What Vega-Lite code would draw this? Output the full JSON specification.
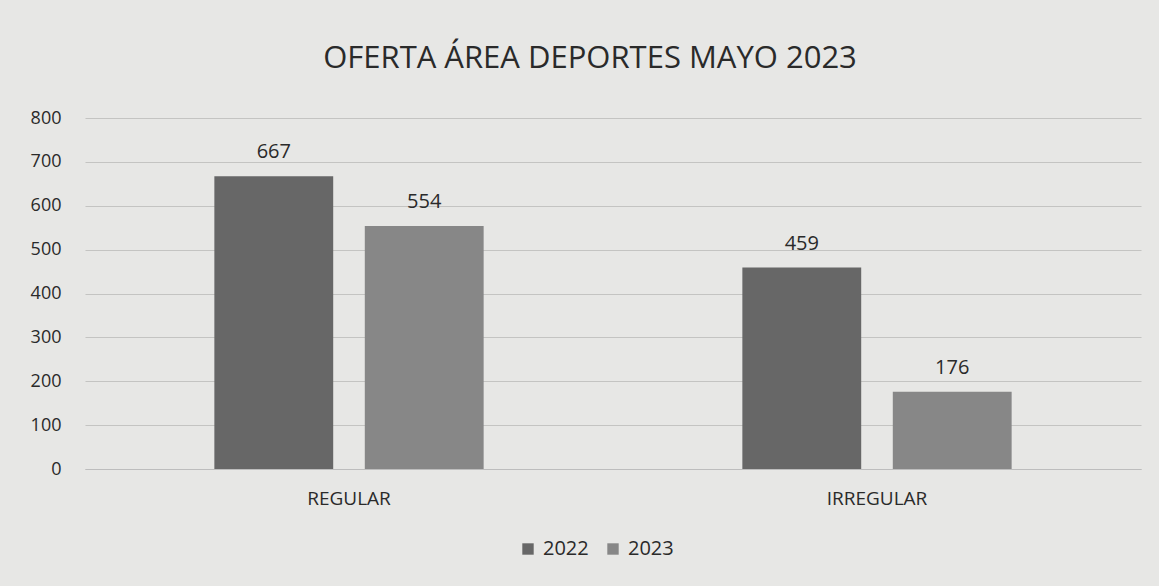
{
  "$schema": "https://vega.github.io/schema/vega-lite/v6.json",
  "autosize": "none",
  "width": 1056,
  "height": 351,
  "padding": {"left": 85, "top": 118, "right": 18, "bottom": 117},
  "background": "#e7e7e5",
  "title": {
    "text": "OFERTA ÁREA DEPORTES MAYO 2023",
    "font": "Open Sans",
    "fontSize": 31,
    "fontWeight": "normal",
    "color": "#2a2a2a",
    "anchor": "middle",
    "dx": -23,
    "offset": 34
  },
  "data": {
    "values": [
      {"tipo": "REGULAR", "anio": "2022", "valor": 667},
      {"tipo": "REGULAR", "anio": "2023", "valor": 554},
      {"tipo": "IRREGULAR", "anio": "2022", "valor": 459},
      {"tipo": "IRREGULAR", "anio": "2023", "valor": 176}
    ]
  },
  "encoding": {
    "x": {
      "field": "tipo",
      "type": "nominal",
      "sort": ["REGULAR", "IRREGULAR"],
      "scale": {"paddingInner": 0.49, "paddingOuter": 0.245},
      "axis": {
        "title": null,
        "labelAngle": 0,
        "labelFont": "Open Sans",
        "labelFontSize": 19,
        "labelColor": "#2a2a2a",
        "ticks": false,
        "labelPadding": 20,
        "domainColor": "#bdbdbd",
        "domainWidth": 1.2
      }
    },
    "xOffset": {"field": "anio", "type": "nominal", "scale": {"paddingInner": 0.21}},
    "y": {
      "field": "valor",
      "type": "quantitative",
      "scale": {"domain": [0, 800]},
      "axis": {
        "title": null,
        "values": [0, 100, 200, 300, 400, 500, 600, 700, 800],
        "labelFont": "Open Sans",
        "labelFontSize": 18,
        "labelColor": "#2a2a2a",
        "ticks": false,
        "domain": false,
        "labelPadding": 24,
        "gridColor": "#c4c4c2",
        "gridWidth": 1.2
      }
    }
  },
  "layer": [
    {
      "mark": {"type": "bar"},
      "encoding": {
        "color": {
          "field": "anio",
          "type": "nominal",
          "scale": {"domain": ["2022", "2023"], "range": ["#676767", "#878787"]},
          "legend": {
            "title": null,
            "orient": "none",
            "direction": "horizontal",
            "legendX": 433,
            "legendY": 421,
            "symbolType": "square",
            "symbolSize": 130,
            "labelFont": "Open Sans",
            "labelFontSize": 20,
            "labelColor": "#2a2a2a",
            "columnPadding": 14,
            "labelOffset": 5
          }
        }
      }
    },
    {
      "mark": {"type": "text", "dy": -24, "font": "Open Sans", "fontSize": 20, "color": "#2a2a2a"},
      "encoding": {"text": {"field": "valor", "type": "quantitative"}}
    }
  ],
  "config": {"view": {"stroke": null}}
}
